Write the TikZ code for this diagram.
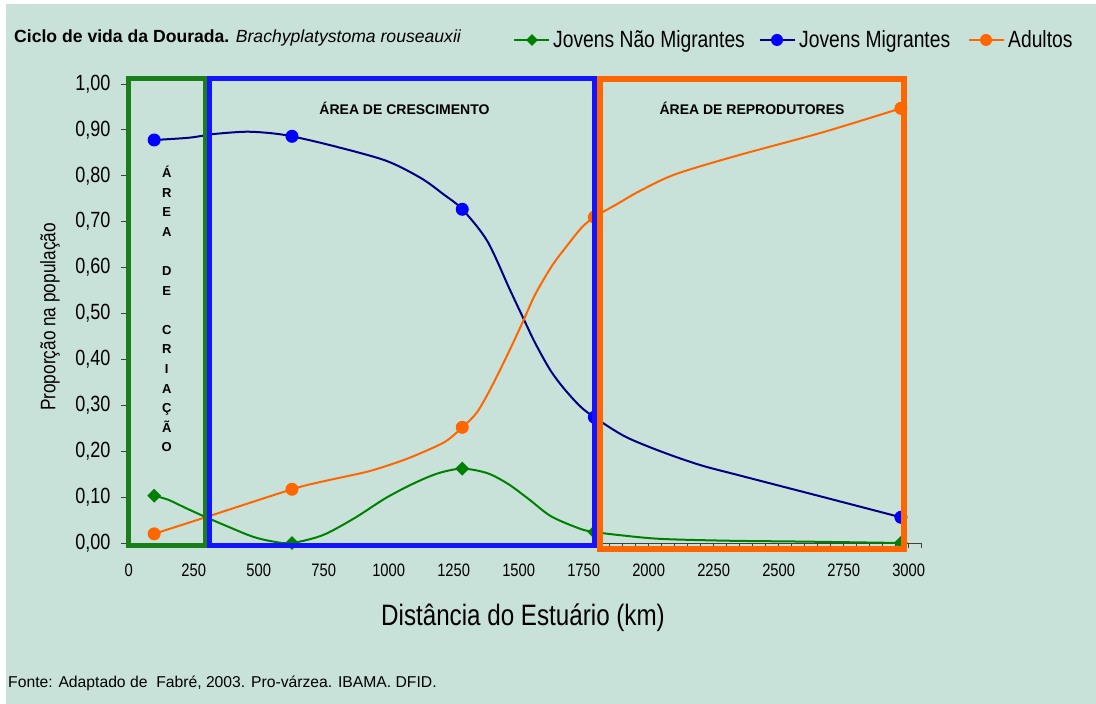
\documentclass[tikz,border=0pt]{standalone}
\usepackage{fontspec}
\setmainfont{Liberation Sans}
\newfontfamily\narrowfont[FakeStretch=0.82]{Liberation Sans}
\usetikzlibrary{shapes.geometric}
\definecolor{bgmint}{HTML}{C8E2D9}
\definecolor{boxgreen}{HTML}{1A7F1A}
\definecolor{boxblue}{HTML}{1414FF}
\definecolor{navyline}{HTML}{000080}
\definecolor{dotblue}{HTML}{0000FF}
\definecolor{jgreen}{HTML}{008000}
\definecolor{adorange}{HTML}{FF6600}
\begin{document}
\begin{tikzpicture}[x=1pt, y=1pt,
		dot/.style={circle, fill=#1, inner sep=0pt, minimum size=13pt},
		gem/.style={diamond, fill=#1, inner sep=0pt, minimum size=14pt},
		curve/.style={line width=2pt, smooth, tension=0.5},
		zone/.style={line width=5pt},
		axisline/.style={black!75, line width=0.8pt},
		xnum/.style={inner sep=0pt, font=\narrowfont\fontsize{18pt}{20pt}\selectfont},
		ynum/.style={inner sep=0pt, anchor=east, font=\narrowfont\fontsize{22pt}{24pt}\selectfont},
		legtext/.style={inner sep=0pt, anchor=base west, font=\narrowfont\fontsize{23.5pt}{26pt}\selectfont},
		zonelabel/.style={inner sep=0pt, font=\bfseries\fontsize{14pt}{16pt}\selectfont}
		]
	\useasboundingbox (0,0) rectangle (1096,704);
	\fill[bgmint] (6,0) rectangle (1097,700);
	\begin{scope}[shift={(128.7pt,161pt)}, x=0.26pt, y=459pt]
		\draw[axisline] (0,0) -- (3050,0);
		\draw[axisline] (0,0) -- (0,1);
		\foreach \k in {0,50,...,3050}
			\draw[axisline] (\k,0) -- ++(0,-5pt);
		\foreach \k in {0,250,...,3000}
			\node[xnum, yshift=-27pt] (xl\k) at (\k,0) {\k};
		\foreach \v in {0,1,...,10}
			\draw[axisline] (0,{\v/10}) -- ++(-8pt,0);
		\foreach \v in {0,1,...,9}
			\node[ynum, xshift=-18pt] (yl\v) at (0,{\v/10}) {0,\v0};
		\node[ynum, xshift=-18pt] (yl10) at (0,1) {1,00};
		\draw[jgreen, curve] plot coordinates {(98,0.103) (153,0.094) (220,0.076) (294,0.057) (368,0.039) (476,0.014) (557,0.003) (628,0.0) (746,0.017) (868,0.054) (989,0.098) (1097,0.130) (1191,0.152) (1283,0.162) (1380,0.152) (1461,0.128) (1540,0.095) (1625,0.058) (1736,0.031) (1791,0.024) (1890,0.017) (2044,0.009) (2300,0.005) (2600,0.003) (2970,0.0)};
		\draw[navyline, curve] plot coordinates {(98,0.878) (233,0.883) (328,0.891) (450,0.896) (544,0.893) (628,0.886) (787,0.865) (989,0.833) (1124,0.795) (1210,0.760) (1283,0.727) (1379,0.658) (1466,0.552) (1520,0.487) (1563,0.436) (1620,0.378) (1672,0.338) (1736,0.298) (1791,0.274) (1909,0.232) (2049,0.199) (2197,0.170) (2344,0.148) (2665,0.101) (2970,0.056)};
		\draw[adorange, curve] plot coordinates {(98,0.020) (301,0.057) (628,0.117) (746,0.134) (922,0.156) (1044,0.178) (1124,0.196) (1218,0.221) (1283,0.252) (1340,0.285) (1400,0.345) (1466,0.421) (1520,0.487) (1563,0.541) (1627,0.603) (1685,0.647) (1742,0.687) (1791,0.710) (1877,0.738) (1966,0.767) (2101,0.803) (2334,0.843) (2671,0.895) (2970,0.947)};
		\foreach \k/\v [count=\i] in {98/0.103, 628/0, 1283/0.162, 1791/0.024, 2970/0}
			\node[gem=jgreen] (jn\i) at (\k,\v) {};
		\foreach \k/\v [count=\i] in {98/0.878, 628/0.886, 1283/0.727, 1791/0.274, 2970/0.056}
			\node[dot=dotblue] (jm\i) at (\k,\v) {};
		\foreach \k/\v [count=\i] in {98/0.020, 628/0.117, 1283/0.252, 1791/0.710, 2970/0.947}
			\node[dot=adorange] (ad\i) at (\k,\v) {};
	\end{scope}
	\draw[zone, boxgreen] (128.5,158.5) rectangle (205,625);
	\draw[zone, boxblue] (209.5,158.5) rectangle (594.5,625);
	\draw[zone, adorange, line width=6pt] (600,155) rectangle (904,625);
	\node[zonelabel] (crescimento) at (404.5,596) {ÁREA DE CRESCIMENTO};
	\node[zonelabel] (reprodutores) at (752,596) {ÁREA DE REPRODUTORES};
	\node[inner sep=0pt, align=center, font=\bfseries\fontsize{13pt}{19.6pt}\selectfont] (criacao) at (166.7,395)
		{Á\\R\\E\\A\\[19.6pt]D\\E\\[19.6pt]C\\R\\I\\A\\Ç\\Ã\\O};
	\node[inner sep=0pt, anchor=west, font=\fontsize{17.6pt}{19pt}\selectfont] (titulo) at (14,666)
		{\textbf{Ciclo de vida da Dourada.} \textit{Brachyplatystoma rouseauxii}};
	\draw[jgreen, line width=2pt] (514,664) -- (549,664);
	\node[gem=jgreen, minimum size=12pt] (legjn) at (532,664) {};
	\node[legtext] (txtjn) at (553,656) {Jovens Não Migrantes};
	\draw[navyline, line width=2pt] (759.5,664) -- (794.5,664);
	\node[dot=dotblue, minimum size=12pt] (legjm) at (777,664) {};
	\node[legtext] (txtjm) at (799,656) {Jovens Migrantes};
	\draw[adorange, line width=2pt] (969,664) -- (1003.5,664);
	\node[dot=adorange, minimum size=12pt] (legad) at (986,664) {};
	\node[legtext] (txtad) at (1008,656) {Adultos};
	\node[inner sep=0pt, font=\narrowfont\fontsize{29.5pt}{32pt}\selectfont] (xtitle) at (523,86) {Distância do Estuário (km)};
	\node[inner sep=0pt, rotate=90, font=\narrowfont\fontsize{21pt}{23pt}\selectfont] (ytitle) at (50,387) {Proporção na população};
	\node[inner sep=0pt, anchor=west, font=\fontsize{15.7pt}{18pt}\selectfont] (fonte) at (8,21)
		{Fonte: Adaptado de\ \ Fabré, 2003. Pro-várzea. IBAMA. DFID.};
\end{tikzpicture}
\end{document}
